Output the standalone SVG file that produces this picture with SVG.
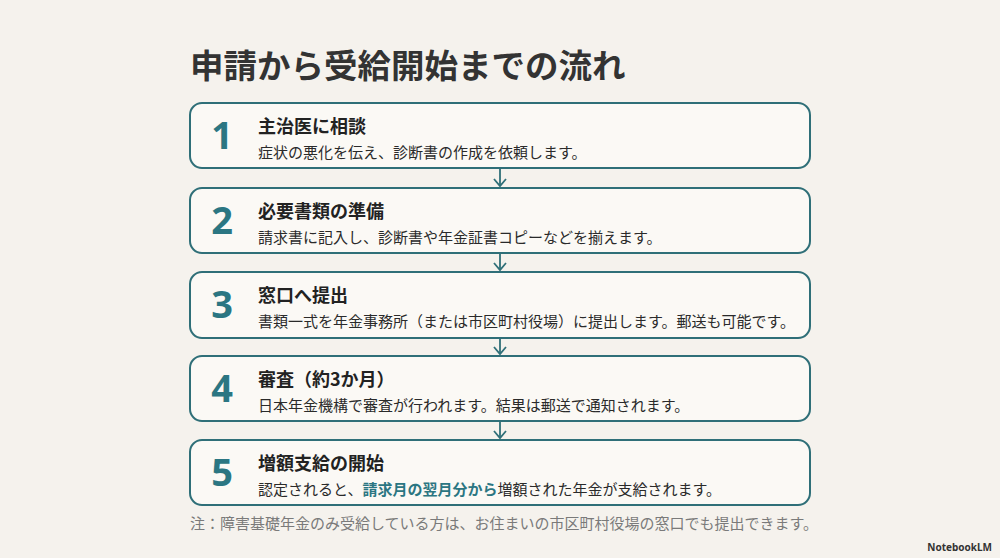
<svg xmlns="http://www.w3.org/2000/svg" width="1000" height="558" viewBox="0 0 1000 558">
<defs>
<style>
.bg{fill:#f5f2ed}
.box{fill:#fbf9f5;stroke:#2f6f78;stroke-width:2}
.num{font-family:"Noto Sans","Liberation Sans",sans-serif;font-weight:700;font-size:38px;fill:#2b7682;text-anchor:middle}
.ttl{font-family:"Noto Sans CJK JP",sans-serif;font-weight:700;font-size:18px;fill:#222}
.sub{font-family:"Noto Sans CJK JP",sans-serif;font-size:15px;fill:#2a2a2a}
.hl{fill:#2b7682;font-weight:700}
.conn{stroke:#2f6f78;stroke-width:1.8;fill:none}
</style>
<marker id="ah" viewBox="0 0 12 14" refX="10" refY="7" markerWidth="12" markerHeight="14" markerUnits="userSpaceOnUse" orient="auto">
<path d="M3,1 L10,7 L3,13" fill="none" stroke="#2f6f78" stroke-width="1.8"/>
</marker>
</defs>
<rect class="bg" x="0" y="0" width="1000" height="558"/>
<text x="190" y="78" font-family="Noto Sans CJK JP, sans-serif" font-weight="700" font-size="33.5" fill="#333">申請から受給開始までの流れ</text>
<g id="connectors">
<line class="conn" x1="500" y1="169" x2="500" y2="186" marker-end="url(#ah)"/>
<line class="conn" x1="500" y1="254" x2="500" y2="270" marker-end="url(#ah)"/>
<line class="conn" x1="500" y1="338" x2="500" y2="354" marker-end="url(#ah)"/>
<line class="conn" x1="500" y1="422" x2="500" y2="438" marker-end="url(#ah)"/>
</g>
<g id="step1">
<rect class="box" x="190" y="103" width="620" height="65" rx="12"/>
<text class="num" x="222" y="149">1</text>
<text class="ttl" x="258" y="133">主治医に相談</text>
<text class="sub" x="258" y="158">症状の悪化を伝え、診断書の作成を依頼します。</text>
</g>
<g id="step2">
<rect class="box" x="190" y="188" width="620" height="65" rx="12"/>
<text class="num" x="222" y="234">2</text>
<text class="ttl" x="258" y="218">必要書類の準備</text>
<text class="sub" x="258" y="243">請求書に記入し、診断書や年金証書コピーなどを揃えます。</text>
</g>
<g id="step3">
<rect class="box" x="190" y="272" width="620" height="66" rx="12"/>
<text class="num" x="222" y="318">3</text>
<text class="ttl" x="258" y="302">窓口へ提出</text>
<text class="sub" x="258" y="327">書類一式を年金事務所（または市区町村役場）に提出します。郵送も可能です。</text>
</g>
<g id="step4">
<rect class="box" x="190" y="356" width="620" height="65" rx="12"/>
<text class="num" x="222" y="402">4</text>
<text class="ttl" x="258" y="386">審査（約3か月）</text>
<text class="sub" x="258" y="411">日本年金機構で審査が行われます。結果は郵送で通知されます。</text>
</g>
<g id="step5">
<rect class="box" x="190" y="440" width="620" height="65" rx="12"/>
<text class="num" x="222" y="486">5</text>
<text class="ttl" x="258" y="470">増額支給の開始</text>
<text class="sub" x="258" y="495">認定されると、<tspan class="hl">請求月の翌月分から</tspan>増額された年金が支給されます。</text>
</g>
<text x="190" y="529" font-family="Noto Sans CJK JP, sans-serif" font-size="15" fill="#7a7a7a">注：障害基礎年金のみ受給している方は、お住まいの市区町村役場の窓口でも提出できます。</text>
<text x="992" y="551" text-anchor="end" font-family="Noto Sans, Liberation Sans, sans-serif" font-weight="700" font-size="10" fill="#333">NotebookLM</text>
</svg>
